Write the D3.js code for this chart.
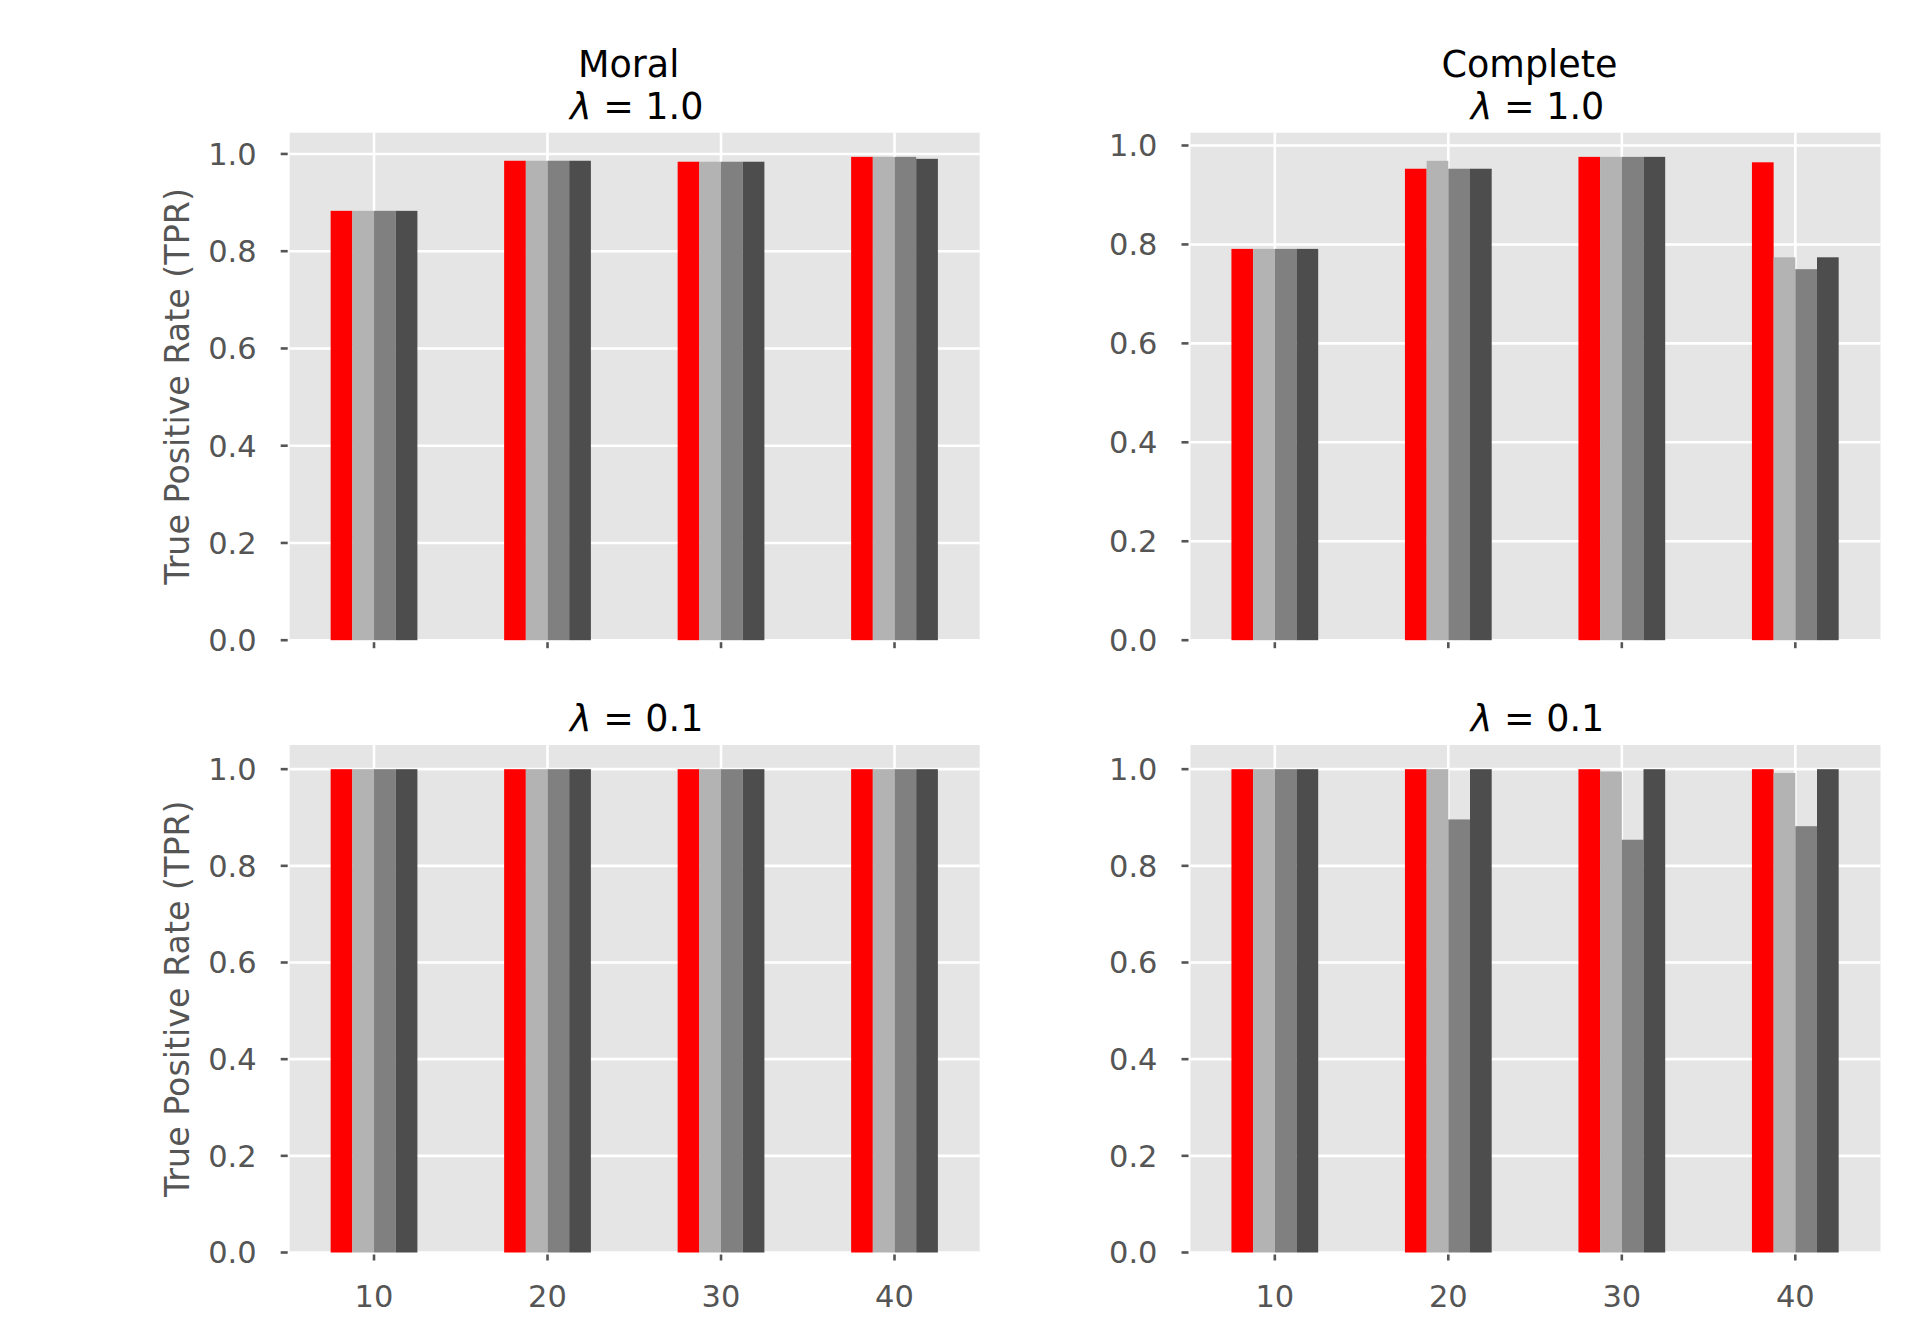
<!DOCTYPE html>
<html>
<head>
<meta charset="utf-8">
<script src="https://cdn.jsdelivr.net/npm/d3@7"></script>
<style>
  body { margin: 0; background: white; }
  svg { font-family: "DejaVu Sans", sans-serif; }
</style>
</head>
<body>
<div id="chart"></div>
<script>

// sample sizes on the x axis
var sizes = [10, 20, 30, 40]

var yTicks = [0, 0.2, 0.4, 0.6, 0.8, 1.0]

var colors = ["#ff0000", "#b3b3b3", "#808080", "#4d4d4d"]

// one row per bar series, one value per sample size
var moralL1 = [
  [0.883, 0.986, 0.984, 0.994],
  [0.883, 0.986, 0.984, 0.994],
  [0.883, 0.986, 0.984, 0.994],
  [0.883, 0.986, 0.984, 0.990]
]

var completeL1 = [
  [0.791, 0.953, 0.977, 0.966],
  [0.791, 0.969, 0.977, 0.774],
  [0.791, 0.953, 0.977, 0.750],
  [0.791, 0.953, 0.977, 0.774]
]

var moralL01 = [
  [1.0, 1.0, 1.0, 1.0],
  [1.0, 1.0, 1.0, 1.0],
  [1.0, 1.0, 1.0, 1.0],
  [1.0, 1.0, 1.0, 1.0]
]

var completeL01 = [
  [1.0, 1.0, 1.0, 1.0],
  [1.0, 1.0, 0.995, 0.992],
  [1.0, 0.896, 0.854, 0.882],
  [1.0, 1.0, 1.0, 1.0]
]

var panels = [
  { data: moralL1, title: ["Moral", "1.0"], x0: 289.7, y0: 132.7, ylabel: true },
  { data: completeL1, title: ["Complete", "1.0"], x0: 1190.5, y0: 132.7, ylabel: false },
  { data: moralL01, title: [null, "0.1"], x0: 289.7, y0: 745, ylabel: true, xlabels: true },
  { data: completeL01, title: [null, "0.1"], x0: 1190.5, y0: 745, ylabel: false, xlabels: true }
]

var W = 690, H = 507.5
var barW = 1.25
var tickFont = 30.5

var svg = d3.select("#chart").append("svg")
    .attr("width", 1920)
    .attr("height", 1320)

svg.append("rect").attr("width", 1920).attr("height", 1320).attr("fill", "white")

panels.forEach(function(p) {

  var g = svg.append("g").attr("transform", "translate(" + p.x0 + "," + p.y0 + ")")

  var x = d3.scaleLinear().domain([5.14, 44.91]).range([0, W])

  // matplotlib style 5% headroom over the tallest bar
  var ymax = d3.max(p.data, function(s) { return d3.max(s) }) * 1.05
  var y = d3.scaleLinear().domain([0, ymax]).range([H, 0])

  g.append("rect").attr("width", W).attr("height", H).attr("fill", "#e5e5e5")

  g.append("g").selectAll("line.h")
    .data(yTicks)
    .join("line")
      .attr("x1", 0).attr("x2", W)
      .attr("y1", d => y(d)).attr("y2", d => y(d))
      .attr("stroke", "white").attr("stroke-width", 2.6)

  g.append("g").selectAll("line.v")
    .data(sizes)
    .join("line")
      .attr("y1", 0).attr("y2", H)
      .attr("x1", d => x(d)).attr("x2", d => x(d))
      .attr("stroke", "white").attr("stroke-width", 2.6)

  p.data.forEach(function(series, si) {
    g.append("g").selectAll("rect")
      .data(series)
      .join("rect")
        .attr("x", (d, i) => x(sizes[i] + (si - 2) * barW))
        .attr("width", x(barW) - x(0))
        .attr("y", d => y(d))
        .attr("height", d => H - y(d))
        .attr("fill", colors[si])
  })

  // y ticks
  var yt = g.append("g")
  yt.selectAll("line")
    .data(yTicks)
    .join("line")
      .attr("x1", -9).attr("x2", -2)
      .attr("y1", d => y(d)).attr("y2", d => y(d))
      .attr("stroke", "#555555").attr("stroke-width", 2.6)
  yt.selectAll("text")
    .data(yTicks)
    .join("text")
      .attr("x", -33)
      .attr("y", d => y(d) + tickFont * 0.36)
      .attr("text-anchor", "end")
      .attr("font-size", tickFont)
      .attr("fill", "#555555")
      .text(d => d3.format(".1f")(d))

  // x ticks
  var xt = g.append("g")
  xt.selectAll("line")
    .data(sizes)
    .join("line")
      .attr("x1", d => x(d)).attr("x2", d => x(d))
      .attr("y1", H + 2).attr("y2", H + 8)
      .attr("stroke", "#555555").attr("stroke-width", 2.6)
  if (p.xlabels) {
    xt.selectAll("text")
      .data(sizes)
      .join("text")
        .attr("x", d => x(d))
        .attr("y", H + 54)
        .attr("text-anchor", "middle")
        .attr("font-size", tickFont)
        .attr("fill", "#555555")
        .text(d => d)
  }

  if (p.ylabel) {
    g.append("text")
      .attr("transform", "translate(" + (189 - p.x0) + "," + (H / 2) + ") rotate(-90)")
      .attr("text-anchor", "middle")
      .attr("font-size", 33.3)
      .attr("fill", "#555555")
      .text("True Positive Rate (TPR)")
  }

  // subplot title, lambda line sits just above the axes
  var t = g.append("g").attr("font-size", 36.5).attr("fill", "black").attr("text-anchor", "middle")
  if (p.title[0]) {
    t.append("text")
      .attr("x", W / 2 - 6)
      .attr("y", -56)
      .text(p.title[0])
  }
  var lam = t.append("text")
    .attr("x", W / 2 + 2)
    .attr("y", -14)
  lam.append("tspan").attr("font-style", "italic").text("λ")
  lam.append("tspan").text(" = " + p.title[1])
})

</script>
</body>
</html>
